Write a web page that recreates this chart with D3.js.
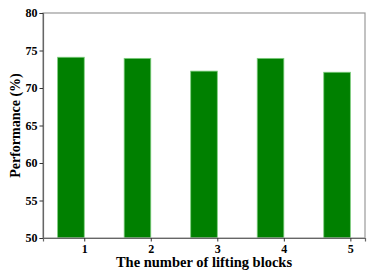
<!DOCTYPE html>
<html>
<head>
<meta charset="utf-8">
<script src="https://cdn.jsdelivr.net/npm/d3@7"></script>
<style>
  body { margin: 0; background: #fff; }
  svg { display: block; font-family: "Liberation Serif", "Times New Roman", serif; font-weight: bold; }
</style>
</head>
<body>
<svg id="chart"></svg>
<script>
const blocks = [1, 2, 3, 4, 5];
const performance = [74.1, 73.95, 72.25, 73.95, 72.1];
const yTicks = [50, 55, 60, 65, 70, 75, 80];

const width = 374, height = 280;
const margin = { top: 13, right: 9, bottom: 42, left: 43 };
const innerWidth = width - margin.left - margin.right;
const innerHeight = height - margin.top - margin.bottom;

const svg = d3.select("#chart").attr("width", width).attr("height", height);
const g = svg.append("g").attr("transform", `translate(${margin.left},${margin.top})`);

// bars sit to the left of their tick (edge aligned, width 0.4)
const barW = 0.4;
const x = d3.scaleLinear().domain([0.38, 5.22]).range([0, innerWidth]);
const y = d3.scaleLinear().domain([50, 80]).range([innerHeight, 0]);

g.selectAll("rect.bar")
  .data(blocks)
  .enter()
  .append("rect")
  .attr("class", "bar")
  .attr("x", d => x(d - barW))
  .attr("width", d => x(d) - x(d - barW))
  .attr("y", (d, i) => y(performance[i]))
  .attr("height", (d, i) => y(50) - y(performance[i]))
  .style("fill", "#008000")
  .style("stroke", "#7ccc7c")
  .style("stroke-width", 0.8);

// frame
g.append("rect")
  .attr("width", innerWidth)
  .attr("height", innerHeight)
  .style("fill", "none")
  .style("stroke", "#999")
  .style("stroke-width", 1.2);

const tickFont = sel => sel.style("font-size", "12px")
  .style("font-family", "Liberation Serif")
  .style("font-weight", "bold")
  .style("fill", "#000");

const yAxis = g.append("g")
  .call(d3.axisLeft(y).tickValues(yTicks).tickSize(3.5).tickPadding(2));
yAxis.select(".domain").style("stroke", "#666").style("stroke-width", 1.2);
yAxis.selectAll(".tick line").style("stroke", "#333");
yAxis.selectAll("text").call(tickFont);

const xAxis = g.append("g")
  .attr("transform", `translate(0,${innerHeight})`)
  .call(d3.axisBottom(x).tickValues(blocks).tickFormat(d3.format("d")).tickSize(3.5).tickPadding(3));
xAxis.select(".domain").style("stroke", "#666").style("stroke-width", 1.2);
xAxis.selectAll(".tick line").style("stroke", "#333");
xAxis.selectAll("text").call(tickFont);

// axis labels
svg.append("text")
  .attr("x", margin.left + innerWidth / 2)
  .attr("y", 267)
  .style("text-anchor", "middle")
  .style("font-size", "14.5px")
  .text("The number of lifting blocks");

svg.append("text")
  .attr("transform", `translate(20,${margin.top + innerHeight / 2}) rotate(-90)`)
  .style("text-anchor", "middle")
  .style("font-size", "14px")
  .text("Performance (%)");
</script>
</body>
</html>
